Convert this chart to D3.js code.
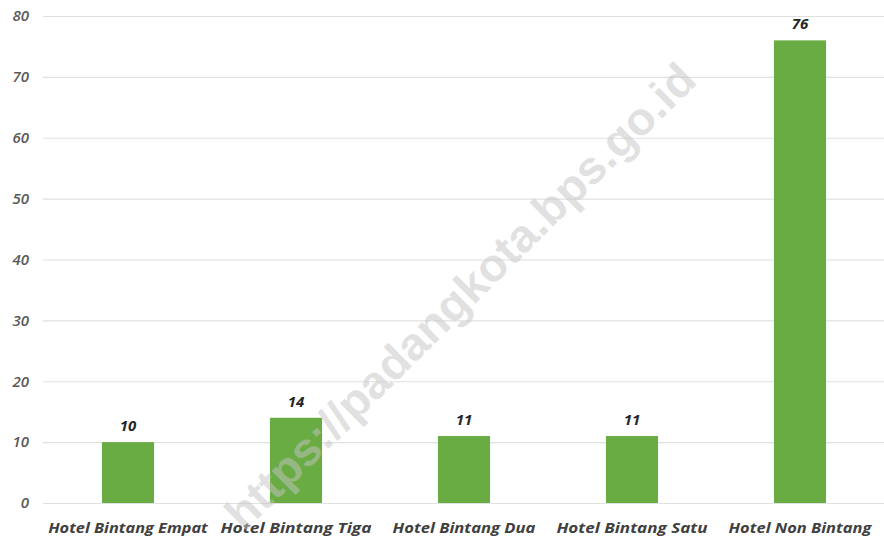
<!DOCTYPE html>
<html><head><meta charset="utf-8">
<script src="https://cdn.jsdelivr.net/npm/d3@7"></script>
<style>body{margin:0;background:#fff}svg{display:block}</style>
</head><body>
<svg id="c" width="884" height="540"></svg>
<script>
const categories = ["Hotel Bintang Empat","Hotel Bintang Tiga","Hotel Bintang Dua","Hotel Bintang Satu","Hotel Non Bintang"];
const values = [10,14,11,11,76];
const yTicks = [0,10,20,30,40,50,60,70,80];
const watermark = "https://padangkota.bps.go.id";

const svg = d3.select("#c");
const x = d3.scaleBand().domain(categories).range([44,884]).paddingInner(0.69).paddingOuter(0.345);
const y = d3.scaleLinear().domain([0,80]).range([503,16]);

svg.append("g").selectAll("line").data(yTicks).join("line")
  .attr("x1",43).attr("x2",884).attr("y1",d=>y(d)+0.5).attr("y2",d=>y(d)+0.5)
  .attr("stroke","#e0e0e0").attr("stroke-width",1.2);

svg.append("g").selectAll("text").data(yTicks).join("text")
  .attr("x",29).attr("y",d=>y(d)).attr("dy","0.35em").attr("text-anchor","end")
  .attr("font-family","Open Sans, sans-serif").attr("font-style","italic").attr("font-weight",600)
  .attr("font-size",15).attr("fill","#595959").text(d=>d);

svg.append("g").selectAll("rect").data(values).join("rect")
  .attr("x",(d,i)=>x(categories[i])).attr("width",x.bandwidth())
  .attr("y",d=>y(d)).attr("height",d=>y(0)-y(d)).attr("fill","#6aac44");

svg.append("g").selectAll("text").data(values).join("text")
  .attr("x",(d,i)=>x(categories[i])+x.bandwidth()/2).attr("y",d=>y(d)-11)
  .attr("text-anchor","middle")
  .attr("font-family","Open Sans, sans-serif").attr("font-style","italic").attr("font-weight",700)
  .attr("font-size",15).attr("fill","#262626").text(d=>d);

svg.append("g").selectAll("text").data(categories).join("text")
  .attr("x",d=>x(d)+x.bandwidth()/2).attr("y",533)
  .attr("text-anchor","middle")
  .attr("font-family","Open Sans, sans-serif").attr("font-style","italic").attr("font-weight",700)
  .attr("font-size",15).attr("fill","#404040")
  .attr("textLength",d=>d.length*8.4).attr("lengthAdjust","spacingAndGlyphs")
  .text(d=>d);

svg.append("text")
  .attr("transform","translate(460,296) rotate(-44.7)")
  .attr("text-anchor","middle").attr("dy","0.35em")
  .attr("font-family","Liberation Sans, Arial, sans-serif").attr("font-weight",700)
  .attr("font-size",46).attr("fill","#c4c4c4").attr("fill-opacity",0.5)
  .attr("textLength",640).attr("lengthAdjust","spacingAndGlyphs")
  .text(watermark);
</script>
</body></html>
